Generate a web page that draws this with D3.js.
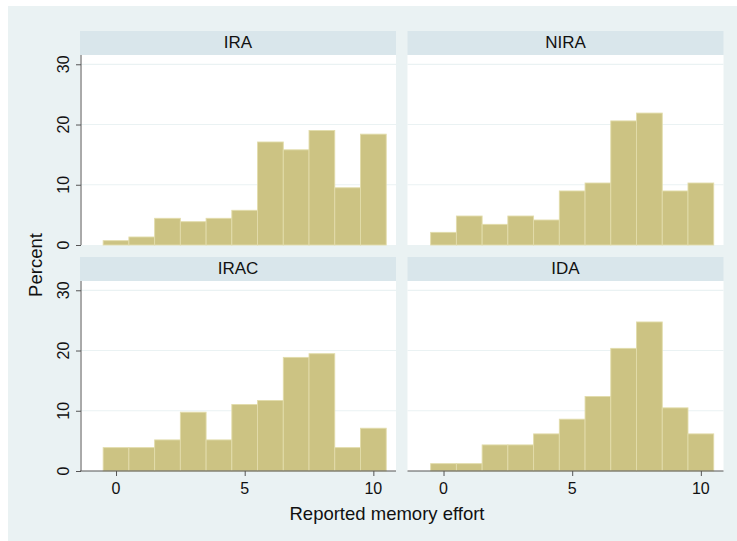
<!DOCTYPE html>
<html>
<head>
<meta charset="utf-8">
<script src="https://cdn.jsdelivr.net/npm/d3@7"></script>
<style>
  html, body { margin: 0; padding: 0; background: #ffffff; }
  svg { display: block; }
  text { font-family: "Liberation Sans", Arial, Helvetica, sans-serif; fill: #111; }
</style>
</head>
<body>
<svg id="chart" width="737" height="541"></svg>
<script>
// ---- Data (percent per bin, bins centred on 0..10) ----
const binCenters = [0, 1, 2, 3, 4, 5, 6, 7, 8, 9, 10];
const panelNames = ["IRA", "NIRA", "IRAC", "IDA"];
const valuesIRA  = [0.72, 1.33, 4.43, 3.87, 4.43, 5.76, 17.1, 15.8, 19.0, 9.5, 18.4];
const valuesNIRA = [2.10, 4.81, 3.43, 4.81, 4.15, 8.97, 10.29, 20.6, 21.9, 8.97, 10.29];
const valuesIRAC = [3.88, 3.88, 5.16, 9.76, 5.16, 11.04, 11.7, 18.86, 19.47, 3.88, 7.1];
const valuesIDA  = [1.22, 1.22, 4.33, 4.33, 6.16, 8.6, 12.37, 20.36, 24.74, 10.48, 6.16];
const xTicks = [0, 5, 10];
const yTicks = [0, 10, 20, 30];
const xTitle = "Reported memory effort";
const yTitle = "Percent";

const seriesByPanel = [valuesIRA, valuesNIRA, valuesIRAC, valuesIDA];

// ---- Layout ----
const svg = d3.select("#chart");
const W = 737, H = 541;
const colors = {
  outer: "#eaf2f3", strip: "#d9e6eb", plot: "#ffffff", grid: "#eaf2f3",
  bar: "#ccc383", barEdge: "#e2dcab", axis: "#555555"
};

svg.append("rect").attr("x", 8).attr("y", 6).attr("width", W - 8).attr("height", H - 6)
  .attr("fill", colors.outer);

const panelW = 316, plotH = 190, stripH = 24;
const colLeft = [80, 407.5];
const rowStripTop = [31, 257];

const x = d3.scaleLinear().domain([-1.4, 10.88]).range([0, panelW]);
const y = d3.scaleLinear().domain([0, 31.54]).range([plotH, 0]);

panelNames.forEach((name, i) => {
  const col = i % 2, row = Math.floor(i / 2);
  const left = colLeft[col];
  const stripTop = rowStripTop[row];
  const plotTop = stripTop + stripH;
  const g = svg.append("g").attr("transform", `translate(${left},${plotTop})`);

  // strip
  svg.append("rect").attr("x", left).attr("y", stripTop).attr("width", panelW).attr("height", stripH)
    .attr("fill", colors.strip);
  svg.append("text").attr("x", left + panelW / 2).attr("y", stripTop + 17.3)
    .attr("text-anchor", "middle").attr("font-size", "17px").text(name);

  // plot background
  g.append("rect").attr("x", 0).attr("y", 0).attr("width", panelW).attr("height", plotH)
    .attr("fill", colors.plot);

  // gridlines
  g.selectAll("line.grid").data(yTicks.filter(t => t > 0)).enter().append("line")
    .attr("class", "grid")
    .attr("x1", 0).attr("x2", panelW)
    .attr("y1", d => y(d)).attr("y2", d => y(d))
    .attr("stroke", colors.grid).attr("stroke-width", 1.2);

  // bars
  const vals = seriesByPanel[i];
  g.selectAll("rect.bar").data(binCenters).enter().append("rect")
    .attr("class", "bar")
    .attr("x", d => x(d - 0.5))
    .attr("width", d => x(d + 0.5) - x(d - 0.5))
    .attr("y", (d, j) => y(vals[j]))
    .attr("height", (d, j) => y(0) - y(vals[j]))
    .attr("fill", colors.bar)
    .attr("stroke", colors.barEdge)
    .attr("stroke-width", 0.9);

  // y axis on left column
  if (col === 0) {
    const ya = g.append("g").attr("transform", "translate(1,0)")
      .call(d3.axisLeft(y).tickValues(yTicks).tickSize(5).tickFormat(""));
    ya.select(".domain").attr("stroke", colors.axis).attr("d", `M0,0V${plotH}`);
    ya.selectAll(".tick line").attr("stroke", colors.axis);
    yTicks.forEach(t => {
      g.append("text")
        .attr("transform", `translate(${68.5 - left},${y(t)}) rotate(-90)`)
        .attr("text-anchor", "middle").attr("font-size", "16px").text(t);
    });
  }

  // x axis on bottom row
  if (row === 1) {
    const xa = g.append("g").attr("transform", `translate(0,${plotH})`)
      .call(d3.axisBottom(x).tickValues(xTicks).tickSize(5).tickFormat(""));
    xa.select(".domain").attr("stroke", colors.axis).attr("d", `M0,0H${panelW}`);
    xa.selectAll(".tick line").attr("stroke", colors.axis);
    xTicks.forEach(t => {
      g.append("text").attr("x", x(t)).attr("y", plotH + 22.5)
        .attr("text-anchor", "middle").attr("font-size", "16px").text(t);
    });
  }
});

// axis titles
svg.append("text").attr("x", 387).attr("y", 520).attr("text-anchor", "middle")
  .attr("font-size", "18.5px").text(xTitle);
svg.append("text").attr("transform", "translate(42,265) rotate(-90)")
  .attr("text-anchor", "middle").attr("font-size", "18.5px").text(yTitle);
</script>
</body>
</html>
